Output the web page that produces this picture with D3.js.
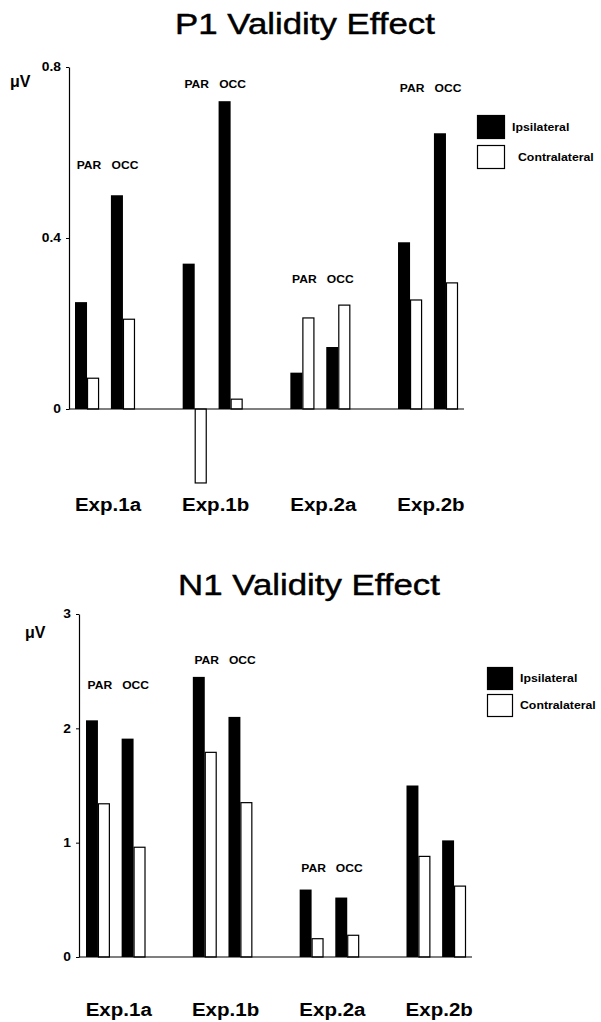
<!DOCTYPE html>
<html>
<head>
<meta charset="utf-8">
<script src="https://cdn.jsdelivr.net/npm/d3@7"></script>
<style>
  body { margin: 0; background: #fff; }
  svg { display: block; }
  text { font-family: "Liberation Sans", Arial, sans-serif; fill: #000; }
</style>
</head>
<body>
<div id="chart"></div>
<script>
// -- data --
const experiments = ["Exp.1a", "Exp.1b", "Exp.2a", "Exp.2b"];
const sites = ["PAR", "OCC"];
const sides = ["Ipsilateral", "Contralateral"];

// P1 validity effect (uV), [PAR, OCC] per experiment
const p1Ipsi   = [[0.25, 0.50], [0.34, 0.72], [0.085, 0.145], [0.39, 0.645]];
const p1Contra = [[0.072, 0.21], [-0.173, 0.023], [0.213, 0.243], [0.255, 0.295]];
const p1Ticks = [0, 0.4, 0.8];
// height (uV) of the PAR / OCC captions above each group
const p1SiteLabelAt = [0.57, 0.76, 0.305, 0.75];

// N1 validity effect (uV)
const n1Ipsi   = [[2.07, 1.91], [2.45, 2.10], [0.59, 0.52], [1.50, 1.02]];
const n1Contra = [[1.34, 0.96], [1.79, 1.35], [0.16, 0.19], [0.88, 0.62]];
const n1Ticks = [0, 1, 2, 3];
const n1SiteLabelAt = [2.38, 2.60, 0.78, null];

var svg = d3.select("#chart").append("svg")
    .attr("width", 601)
    .attr("height", 1022);

// widen text a little, the scanned figure is stretched horizontally
function stretch(sel, k) {
  sel.each(function() {
    var w = this.getComputedTextLength();
    this.setAttribute("textLength", w * k);
    this.setAttribute("lengthAdjust", "spacingAndGlyphs");
  });
}

function drawPanel(cfg) {
  var g = svg.append("g");

  var y = d3.scaleLinear()
      .domain([0, d3.max(cfg.ticks)])
      .range([cfg.y0, cfg.y1]);

  var x = d3.scaleBand()
      .domain(experiments)
      .range([cfg.x0, cfg.x1])
      .paddingInner(0.443)
      .paddingOuter(0);

  var xSite = d3.scaleBand()
      .domain(sites)
      .range([0, x.bandwidth()])
      .paddingInner(0.33);

  var xSide = d3.scaleBand()
      .domain(sides)
      .range([0, xSite.bandwidth()]);

  // title (slightly heavier than regular, like the print)
  g.append("text")
      .attr("x", cfg.titleX)
      .attr("y", cfg.titleY)
      .attr("text-anchor", "middle")
      .attr("stroke", "#000")
      .attr("stroke-width", 0.45)
      .style("font-size", "29px")
      .text(cfg.title)
      .call(stretch, 1.2);

  // bars
  var rows = [];
  experiments.forEach((e, i) => {
    sites.forEach((s, j) => {
      rows.push({exp: e, site: s, side: "Ipsilateral", v: cfg.ipsi[i][j]});
      rows.push({exp: e, site: s, side: "Contralateral", v: cfg.contra[i][j]});
    });
  });

  g.selectAll(".bar")
      .data(rows)
    .enter().append("rect")
      .attr("class", "bar")
      .attr("x", d => x(d.exp) + xSite(d.site) + xSide(d.side) + (d.side == "Contralateral" ? 0.5 : 0))
      .attr("y", d => Math.min(y(d.v), y(0)))
      .attr("width", d => xSide.bandwidth() - (d.side == "Contralateral" ? 1 : 0))
      .attr("height", d => Math.abs(y(d.v) - y(0)))
      .attr("fill", d => d.side == "Ipsilateral" ? "#000" : "#fff")
      .attr("stroke", d => d.side == "Ipsilateral" ? "none" : "#000")
      .attr("stroke-width", 1.2);

  // baseline
  g.append("line")
      .attr("x1", cfg.axisX)
      .attr("x2", cfg.baseEnd)
      .attr("y1", y(0))
      .attr("y2", y(0))
      .attr("stroke", "#000")
      .attr("stroke-width", 1.2);

  // y axis
  var ax = g.append("g")
      .attr("transform", "translate(" + cfg.axisX + ",0)")
      .call(d3.axisLeft(y)
        .tickValues(cfg.ticks)
        .tickSize(3)
        .tickSizeOuter(0)
        .tickPadding(5)
        .tickFormat(d => String(d)));
  ax.select(".domain").attr("stroke", "#000").attr("stroke-width", 1.2);
  ax.selectAll(".tick line").attr("stroke", "#000");
  ax.selectAll(".tick text")
      .attr("font-family", null)
      .attr("font-size", null)
      .style("font-size", "12px")
      .style("font-weight", "bold")
      .call(stretch, 1.15);

  g.append("text")
      .attr("x", cfg.unitX)
      .attr("y", cfg.unitY)
      .style("font-size", "16px")
      .style("font-weight", "bold")
      .text("\u03bcV");

  // PAR / OCC captions
  experiments.forEach((e, i) => {
    if (cfg.siteAt[i] == null) return;
    sites.forEach(s => {
      g.append("text")
          .attr("x", x(e) + xSite(s) + xSite.bandwidth() / 2 + 2)
          .attr("y", y(cfg.siteAt[i]) + 4)
          .attr("text-anchor", "middle")
          .style("font-size", "10.5px")
          .style("font-weight", "bold")
          .text(s)
          .call(stretch, 1.15);
    });
  });

  // experiment labels
  g.selectAll(".exp")
      .data(experiments)
    .enter().append("text")
      .attr("class", "exp")
      .attr("x", d => x(d) + x.bandwidth() / 2 + 3)
      .attr("y", cfg.expY)
      .attr("text-anchor", "middle")
      .style("font-size", "18px")
      .style("font-weight", "bold")
      .text(d => d)
      .call(stretch, 1.14);

  // legend
  var lg = g.append("g")
      .attr("transform", "translate(" + cfg.legX + "," + cfg.legY + ")");
  sides.forEach((s, i) => {
    lg.append("rect")
        .attr("x", 0.5)
        .attr("y", i * cfg.legStep + 0.5)
        .attr("width", cfg.legW)
        .attr("height", cfg.legH)
        .attr("fill", i == 0 ? "#000" : "#fff")
        .attr("stroke", "#000")
        .attr("stroke-width", 1.2);
    lg.append("text")
        .attr("x", cfg.legW + cfg.legTextDx[i])
        .attr("y", i * cfg.legStep + cfg.legH / 2 + 4)
        .style("font-size", "10.5px")
        .style("font-weight", "bold")
        .text(s)
        .call(stretch, 1.17);
  });
}

drawPanel({
  title: "P1 Validity Effect", titleX: 305, titleY: 34,
  ipsi: p1Ipsi, contra: p1Contra, ticks: p1Ticks, siteAt: p1SiteLabelAt,
  y0: 409, y1: 67, x0: 75, x1: 458, axisX: 69, baseEnd: 464,
  unitX: 10, unitY: 87, expY: 511,
  legX: 477, legY: 115, legW: 27, legH: 23, legStep: 30, legTextDx: [8, 14]
});

drawPanel({
  title: "N1 Validity Effect", titleX: 309, titleY: 595,
  ipsi: n1Ipsi, contra: n1Contra, ticks: n1Ticks, siteAt: n1SiteLabelAt,
  y0: 957, y1: 614, x0: 86, x1: 466, axisX: 79, baseEnd: 472,
  unitX: 25, unitY: 638, expY: 1016,
  legX: 487, legY: 667, legW: 25, legH: 22, legStep: 27, legTextDx: [8, 8]
});
</script>
</body>
</html>
